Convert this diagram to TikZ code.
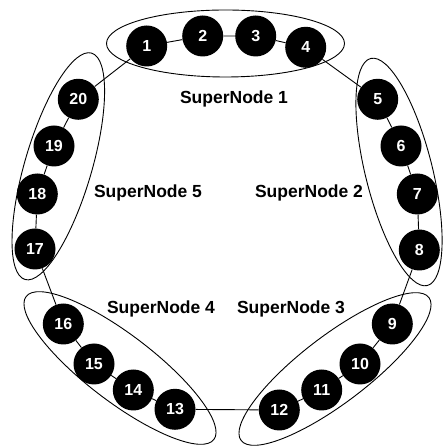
\documentclass[tikz,border=0pt]{standalone}
\usepackage{fontspec}
\setmainfont{Liberation Sans}

\tikzset{
    peer/.style={circle, fill=black, text=white, minimum size=41pt, inner sep=0pt,
        font=\bfseries\fontsize{16}{16}\selectfont},
    group/.style={draw, line width=0.9pt},
    grouplabel/.style={font=\bfseries\fontsize{17.5}{18}\selectfont},
    ring/.style={draw, line width=0.9pt}
}

\begin{document}
\begin{tikzpicture}[x=1pt, y=1pt]
            \useasboundingbox (0,0) rectangle (444,446);
            \clip (0,0) rectangle (444,446);
            % the five super nodes
            \draw[group] (225.5,402.5) ellipse [x radius=119pt, y radius=33.5pt];
            \draw[group, rotate around={-76:(399,274)}] (399,274) ellipse [x radius=117pt, y radius=33.5pt];
            \draw[group, rotate around={37.3:(335,77)}] (335,77) ellipse [x radius=118pt, y radius=33.5pt];
            \draw[group, rotate around={-37.3:(120,78)}] (120,78) ellipse [x radius=118pt, y radius=33.5pt];
            \draw[group, rotate around={73.6:(58.3,279.7)}] (58.3,279.7) ellipse [x radius=118pt, y radius=33.5pt];
            \node[grouplabel] (label1) at (234,347) {SuperNode 1};
            \node[grouplabel] (label2) at (309,253) {SuperNode 2};
            \node[grouplabel] (label3) at (291,137) {SuperNode 3};
            \node[grouplabel] (label4) at (161,137) {SuperNode 4};
            \node[grouplabel] (label5) at (148,253) {SuperNode 5};
            % peers
            \node[peer] (p1) at (146.7,400) {1};
            \node[peer] (p2) at (202.7,410) {2};
            \node[peer] (p3) at (255.7,410) {3};
            \node[peer] (p4) at (305.7,398.7) {4};
            \node[peer] (p5) at (377.7,346.7) {5};
            \node[peer] (p6) at (401,300) {6};
            \node[peer] (p7) at (417.3,252) {7};
            \node[peer] (p8) at (419.3,196) {8};
            \node[peer] (p9) at (392.3,122) {9};
            \node[peer] (p10) at (360,82) {10};
            \node[peer] (p11) at (321.7,56) {11};
            \node[peer] (p12) at (279.3,36) {12};
            \node[peer] (p13) at (175,36.7) {13};
            \node[peer] (p14) at (133.3,56) {14};
            \node[peer] (p15) at (94,82) {15};
            \node[peer] (p16) at (63.3,122) {16};
            \node[peer] (p17) at (35,197) {17};
            \node[peer] (p18) at (37.3,252) {18};
            \node[peer] (p19) at (54,300) {19};
            \node[peer] (p20) at (78.3,346.7) {20};
            % the ring
            \draw[ring] (p1) -- (p2) -- (p3) -- (p4) -- (p5) -- (p6) -- (p7) -- (p8) -- (p9) -- (p10);
            \draw[ring] (p10) -- (p11) -- (p12) -- (p13) -- (p14) -- (p15) -- (p16) -- (p17) -- (p18);
            \draw[ring] (p18) -- (p19) -- (p20) -- (p1);
        \end{tikzpicture}
\end{document}
